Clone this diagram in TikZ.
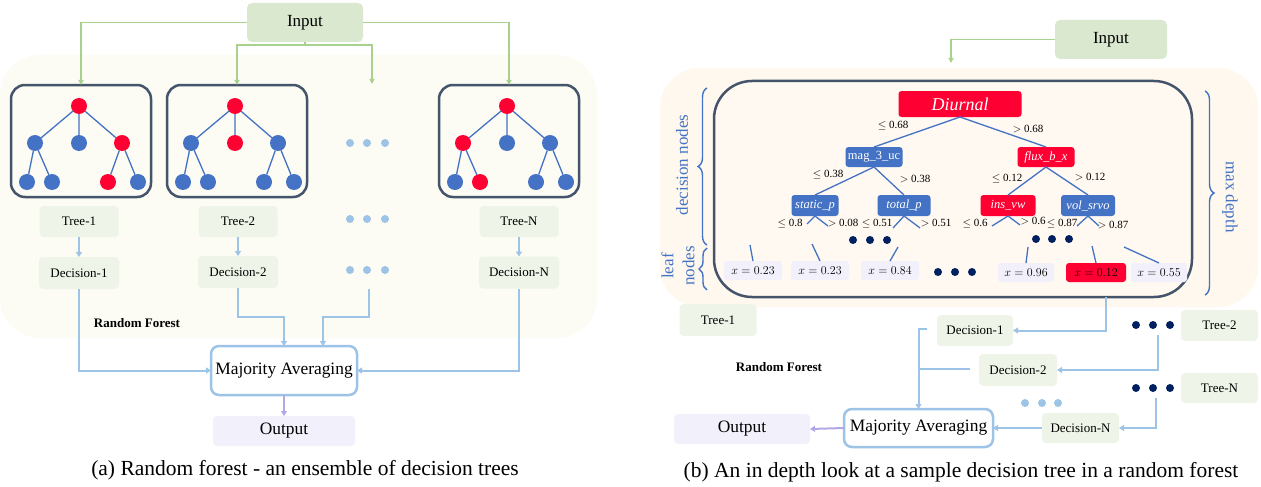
\documentclass[tikz,border=0pt]{standalone}
\usepackage{fontspec}
\setmainfont{Liberation Serif}
\usetikzlibrary{arrows.meta,decorations.pathreplacing}

\definecolor{tred}{HTML}{FF0033}
\definecolor{tblue}{HTML}{4472C4}
\definecolor{slate}{HTML}{44546A}
\definecolor{lblue}{HTML}{9DC3E6}
\definecolor{navy}{HTML}{002060}
\definecolor{lgreen}{HTML}{A9D18E}
\definecolor{ingreen}{HTML}{DAE8CF}
\definecolor{boxgreen}{HTML}{EEF5E8}
\definecolor{lav}{HTML}{F2F1FB}
\definecolor{lilac}{HTML}{B4A7E6}
\definecolor{bgleft}{HTML}{FCFBF4}
\definecolor{bgright}{HTML}{FEF8EF}
\definecolor{cream}{HTML}{FFF9F1}

\begin{document}
\begin{tikzpicture}[x=1pt, y=-1pt,
    every node/.style={inner sep=0pt, outer sep=0pt},
    cb/.style={circle, fill=tblue, minimum size=16pt},
    cr/.style={circle, fill=tred, minimum size=16pt},
    tedge/.style={tblue, line width=1.3pt},
    tbox/.style={draw=slate, line width=2.5pt, rounded corners=14pt, minimum width=140pt, minimum height=112pt},
    inbox/.style={fill=ingreen, rounded corners=5pt, font=\fontsize{17}{20}\selectfont},
    gbox/.style={fill=boxgreen, rounded corners=4pt, minimum width=79pt, minimum height=31pt, font=\fontsize{13}{15}\selectfont},
    mabox/.style={draw=lblue, fill=white, line width=2.5pt, rounded corners=8pt, font=\fontsize{17.4}{20}\selectfont},
    outbox/.style={fill=lav, rounded corners=4pt, font=\fontsize{17.4}{20}\selectfont},
    garrow/.style={lgreen, line width=1.3pt, -{Triangle[length=5pt,width=5pt]}},
    barrow/.style={lblue, line width=2pt, -{Triangle[length=5pt,width=6pt]}},
    bline/.style={lblue, line width=2pt},
    parrow/.style={lilac, line width=2pt, -{Triangle[length=5pt,width=6pt]}},
    dn/.style={rounded corners=3pt, text=white, minimum height=21pt, font=\fontsize{12.5}{14}\selectfont},
    elab/.style={font=\fontsize{11}{12}\selectfont},
    leaf/.style={fill=lav, rounded corners=3pt, minimum height=19pt, font=\fontsize{11.5}{12}\selectfont},
    brc/.style={tblue, line width=1.4pt, decorate},
    blab/.style={text=tblue, font=\fontsize{17}{21}\selectfont},
    captxt/.style={font=\fontsize{21.5}{24}\selectfont}]

  \useasboundingbox (0,0) rectangle (1261,487);

  % (a) random forest
  \fill[bgleft, rounded corners=40pt] (0,55) rectangle (597,338);
  \node[inbox, minimum width=116pt, minimum height=39pt] (in) at (305,22.5) {Input};

  \foreach \k/\cx/\ra/\rb/\rc/\la/\lb/\lc/\ld in {1/79/b/b/r/b/b/r/b, 2/235/b/r/b/b/b/b/b, N/507/r/b/b/b/r/b/b} {
    \node[tbox] (box\k) at (\cx+2,141) {};
    \node[cr] (root\k) at (\cx,106) {};
    \node[c\ra] (a\k) at (\cx-44,143) {};
    \node[c\rb] (b\k) at (\cx,143) {};
    \node[c\rc] (c\k) at (\cx+43,143) {};
    \node[c\la] (p\k) at (\cx-52,182) {};
    \node[c\lb] (q\k) at (\cx-27,182) {};
    \node[c\lc] (s\k) at (\cx+29,182) {};
    \node[c\ld] (u\k) at (\cx+59,182) {};
    \draw[tedge] (root\k) -- (a\k) (root\k) -- (b\k) (root\k) -- (c\k)
      (a\k) -- (p\k) (a\k) -- (q\k) (c\k) -- (s\k) (c\k) -- (u\k);
  }

  \coordinate (ij) at (305,45);
  \coordinate (dtop) at (372,84);
  \draw[garrow] (in.west) -| (box1.north);
  \draw[garrow] (in.south) -- (ij) -| (box2.north);
  \draw[garrow] (ij) -| (dtop);
  \draw[garrow] (in.east) -| (boxN.north);

  \foreach \x in {350,367,385}
    \foreach \y in {143,219,270}
      \fill[lblue] (\x,\y) circle (4pt);

  \node[gbox] (tl1) at (79,221.5) {Tree-1};
  \node[gbox] (tl2) at (238,221.5) {Tree-2};
  \node[gbox] (tlN) at (519,221.5) {Tree-N};
  \node[gbox, minimum width=80pt, minimum height=32pt] (d1) at (79,273) {Decision-1};
  \node[gbox, minimum width=80pt, minimum height=32pt] (d2) at (238,272) {Decision-2};
  \node[gbox, minimum width=80pt, minimum height=32pt] (dN) at (519,272.5) {Decision-N};
  \draw[barrow] (tl1) -- (d1);
  \draw[barrow] (tl2) -- (d2);
  \draw[barrow] (tlN) -- (dN);

  \node[font=\bfseries\fontsize{13}{15}\selectfont] (rf1) at (137,323) {Random Forest};
  \node[mabox, minimum width=146pt, minimum height=49pt] (ma) at (284,370.5) {Majority Averaging};
  \node[outbox, minimum width=142pt, minimum height=30pt] (out) at (284,431) {Output};

  \coordinate (dd) at (369,289);
  \draw[barrow] (d1.south) |- (ma.west);
  \draw[barrow] (d2.south) -- ++(0,29) -| (ma.north);
  \draw[barrow] (dd) -- ++(0,28) -| ([xshift=39pt]ma.north);
  \draw[barrow] (dN.south) |- (ma.east);
  \draw[parrow] (ma.south) -- (out.north);

  \node[captxt] (capa) at (305,470) {(a) Random forest - an ensemble of decision trees};

  % (b) one tree in depth
  \fill[bgright, rounded corners=40pt] (660,68) rectangle (1258,307);
  \node[inbox, minimum width=112pt, minimum height=39pt] (in2) at (1111,39.5) {Input};
  \coordinate (tin) at (951,63);
  \draw[garrow] (in2.west) -| (tin);

  \node[draw=slate, line width=2.5pt, rounded corners=38pt, fill=cream,
    minimum width=478pt, minimum height=216pt] (tbig) at (953,189) {};

  \node[dn, fill=tred, minimum width=123pt, minimum height=26pt, font=\itshape\fontsize{18}{20}\selectfont] (diu) at (960,104) {Diurnal};
  \node[dn, fill=tblue, minimum width=57pt, minimum height=20pt] (mag) at (874,157) {mag\_3\_uc};
  \node[dn, fill=tred, minimum width=57pt, minimum height=20pt, font=\itshape\fontsize{12.5}{14}\selectfont] (flux) at (1046,157) {flux\_b\_x};
  \node[dn, fill=tblue, minimum width=47pt, font=\itshape\fontsize{12.5}{14}\selectfont] (stp) at (815,205.5) {static\_p};
  \node[dn, fill=tblue, minimum width=53pt, font=\itshape\fontsize{12.5}{14}\selectfont] (totp) at (904,205.5) {total\_p};
  \node[dn, fill=tred, minimum width=55pt, font=\itshape\fontsize{12.5}{14}\selectfont] (insv) at (1008,205.5) {ins\_vw};
  \node[dn, fill=tblue, minimum width=54pt, font=\itshape\fontsize{12.5}{14}\selectfont] (vols) at (1088,205.5) {vol\_srvo};

  \draw[tedge] (diu.south) -- (mag.north);
  \draw[tedge] (diu.south) -- (flux.north);
  \draw[tedge] (mag.south) -- (stp.north);
  \draw[tedge] (mag.south) -- (totp.north);
  \draw[tedge] (flux.south) -- (insv.north);
  \draw[tedge] (flux.south) -- (vols.north);

  \node[elab] (e1) at (893,126) {$\leq$ 0.68};
  \node[elab] (e2) at (1028,129) {$>$ 0.68};
  \node[elab] (e3) at (828,175) {$\leq$ 0.38};
  \node[elab] (e4) at (915,179) {$>$ 0.38};
  \node[elab] (e5) at (1007,179) {$\leq$ 0.12};
  \node[elab] (e6) at (1090,177) {$>$ 0.12};
  \node[elab] (e7) at (790,224) {$\leq$ 0.8};
  \node[elab] (e8) at (843,223) {$>$ 0.08};
  \node[elab] (e9) at (877,224) {$\leq$ 0.51};
  \node[elab] (e10) at (936,223) {$>$ 0.51};
  \node[elab] (e11) at (975,224) {$\leq$ 0.6};
  \node[elab] (e12) at (1033,221) {$>$ 0.6};
  \node[elab] (e13) at (1062,224) {$\leq$ 0.87};
  \node[elab] (e14) at (1113,225) {$>$ 0.87};

  \coordinate (sp1) at (807,224);
  \coordinate (sp2) at (828,226);
  \coordinate (tp1) at (893,228);
  \coordinate (tp2) at (920,228);
  \coordinate (iv1) at (992,226);
  \coordinate (iv2) at (1020,225);
  \coordinate (vs1) at (1077,226);
  \coordinate (vs2) at (1099,226);
  \draw[tedge] (stp.south) -- (sp1) (stp.south) -- (sp2);
  \draw[tedge] (totp.south) -- (tp1) (totp.south) -- (tp2);
  \draw[tedge] (insv.south) -- (iv1) (insv.south) -- (iv2);
  \draw[tedge] (vols.south) -- (vs1) (vols.south) -- (vs2);

  \foreach \x in {853,870,887} \fill[navy] (\x,240) circle (4pt);
  \foreach \x in {1036,1052,1069} \fill[navy] (\x,239) circle (4pt);
  \foreach \x in {938,955,972} \fill[navy] (\x,272) circle (4pt);

  \node[leaf, minimum width=58pt] (lf1) at (753,270.5) {$x = 0.23$};
  \node[leaf, minimum width=58pt] (lf2) at (820,270.5) {$x = 0.23$};
  \node[leaf, minimum width=58pt] (lf3) at (890,270.5) {$x = 0.84$};
  \node[leaf, minimum width=56pt] (lf4) at (1026,272.5) {$x = 0.96$};
  \node[leaf, minimum width=60pt, fill=tred] (lf5) at (1096,272.5) {$x = 0.12$};
  \node[leaf, minimum width=56pt] (lf6) at (1159,272.5) {$x = 0.55$};

  \coordinate (lt1) at (750,245);
  \coordinate (lt2) at (812,244);
  \coordinate (lt3) at (898,247);
  \coordinate (lt4) at (1028,247);
  \coordinate (lt5) at (1092,246);
  \coordinate (lt6) at (1124,247);
  \draw[tedge] (lt1) -- (lf1.north);
  \draw[tedge] (lt2) -- (lf2.north);
  \draw[tedge] (lt3) -- (lf3.north);
  \draw[tedge] (lt4) -- (lf4.north);
  \draw[tedge] (lt5) -- (lf5.north);
  \draw[tedge] (lt6) -- (lf6.north);

  \draw[brc, decoration={brace, amplitude=9pt}] (707,245) -- (707,88);
  \draw[brc, decoration={brace, amplitude=8pt}] (707,290) -- (707,248);
  \draw[brc, decoration={brace, amplitude=9pt}] (1205,91) -- (1205,295);
  \node[blab, rotate=90] (bl1) at (682,165) {decision nodes};
  \node[blab, rotate=90, align=center] (bl2) at (678,266) {leaf\\nodes};
  \node[blab, rotate=-90] (bl3) at (1230,197) {max depth};

  \node[gbox, minimum width=77pt, minimum height=32pt] (rt1) at (718,320) {Tree-1};
  \node[gbox, minimum width=77pt] (rt2) at (1219.5,325.5) {Tree-2};
  \node[gbox, minimum width=77pt, minimum height=30pt] (rtN) at (1219.5,388) {Tree-N};
  \node[gbox, minimum width=76pt] (rd1) at (975,330.5) {Decision-1};
  \node[gbox, minimum width=78pt, minimum height=32pt] (rd2) at (1018,370) {Decision-2};
  \node[gbox, minimum width=77pt, minimum height=30pt] (rdN) at (1080.5,428) {Decision-N};
  \node[font=\bfseries\fontsize{13}{15}\selectfont] (rf2) at (779,367) {Random Forest};

  \foreach \x in {1136,1153,1170} \fill[navy] (\x,325) circle (4pt);
  \foreach \x in {1136,1153,1170} \fill[navy] (\x,388) circle (4pt);
  \foreach \x in {1025,1042,1058} \fill[lblue] (\x,403) circle (4pt);

  \node[mabox, minimum width=149pt, minimum height=38pt] (ma2) at (918.5,428) {Majority Averaging};
  \node[outbox, minimum width=136pt, minimum height=30pt] (out2) at (742,429) {Output};

  \coordinate (tb1) at (1106,297);
  \coordinate (dt2) at (1158,335);
  \coordinate (dtn) at (1156,398);
  \coordinate (k1) at (927,329);
  \coordinate (k2) at (919,369);
  \coordinate (k3) at (970,369);
  \draw[barrow] (tb1) |- (rd1.east);
  \draw[barrow] (dt2) |- (rd2.east);
  \draw[barrow] (dtn) |- (rdN.east);
  \draw[barrow] (rdN.west) -- (ma2.east);
  \draw[barrow] (k1) -| (ma2.north);
  \draw[bline] (k2) -- (k3);
  \draw[parrow] (ma2.west) -- (out2.east);

  \node[captxt] (capb) at (961,472) {(b) An in depth look at a sample decision tree in a random forest};
\end{tikzpicture}
\end{document}
